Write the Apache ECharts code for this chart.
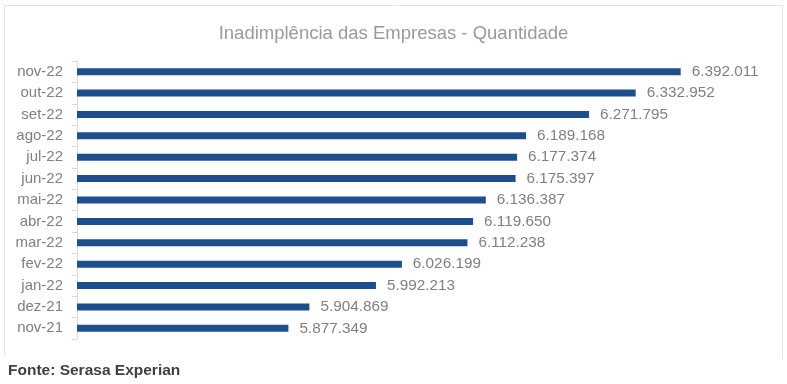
<!DOCTYPE html>
<html>
<head>
<meta charset="utf-8">
<script src="https://cdn.jsdelivr.net/npm/echarts@6/dist/echarts.min.js"></script>
<style>html,body{margin:0;padding:0;background:#fff;}#c{width:787px;height:384px;}</style>
</head>
<body>
<div id="c"></div>
<script>
const categories = ['nov-21','dez-21','jan-22','fev-22','mar-22','abr-22','mai-22','jun-22','jul-22','ago-22','set-22','out-22','nov-22'];
const values = [5877349,5904869,5992213,6026199,6112238,6119650,6136387,6175397,6177374,6189168,6271795,6332952,6392011];
const titleText = 'Inadimplência das Empresas - Quantidade';
const sourceText = 'Fonte: Serasa Experian';

function fmt(v){ return String(v).replace(/\B(?=(\d{3})+(?!\d))/g,'.'); }

const chart = echarts.init(document.getElementById('c'), null, {renderer:'canvas'});
chart.setOption({
  animation:false,
  title:{text:titleText,left:'center',top:19,textStyle:{color:'#9a9a9a',fontSize:18.5,fontWeight:'normal',fontFamily:'Liberation Sans, Arial, sans-serif'}},
  grid:{left:77,top:61,height:278,width:686,containLabel:false},
  xAxis:{type:'value',min:5600000,max:6500000,show:false},
  yAxis:{type:'category',data:categories,
    axisLine:{show:true,lineStyle:{color:'#d9d9d9'}},
    axisTick:{show:true,length:5,lineStyle:{color:'#d9d9d9'}},
    axisLabel:{color:'#808080',fontSize:15,margin:14,fontFamily:'Liberation Sans, Arial, sans-serif'}},
  series:[{type:'bar',data:values,barWidth:7,itemStyle:{color:'#1f4e8c'},
    label:{show:true,position:'right',distance:11,color:'#808080',fontSize:15.3,fontFamily:'Liberation Sans, Arial, sans-serif',formatter:p=>fmt(p.value)}}],
  graphic:[
    {type:'polyline',shape:{points:[[4.5,356],[4.5,5.5],[782.5,5.5],[782.5,359]]},style:{stroke:'#e3e3e3',lineWidth:1,fill:null}},
    {type:'text',left:8,top:363,style:{text:sourceText,fill:'#404040',font:'bold 15.5px Liberation Sans, Arial, sans-serif'}}
  ]
});
</script>
</body>
</html>
